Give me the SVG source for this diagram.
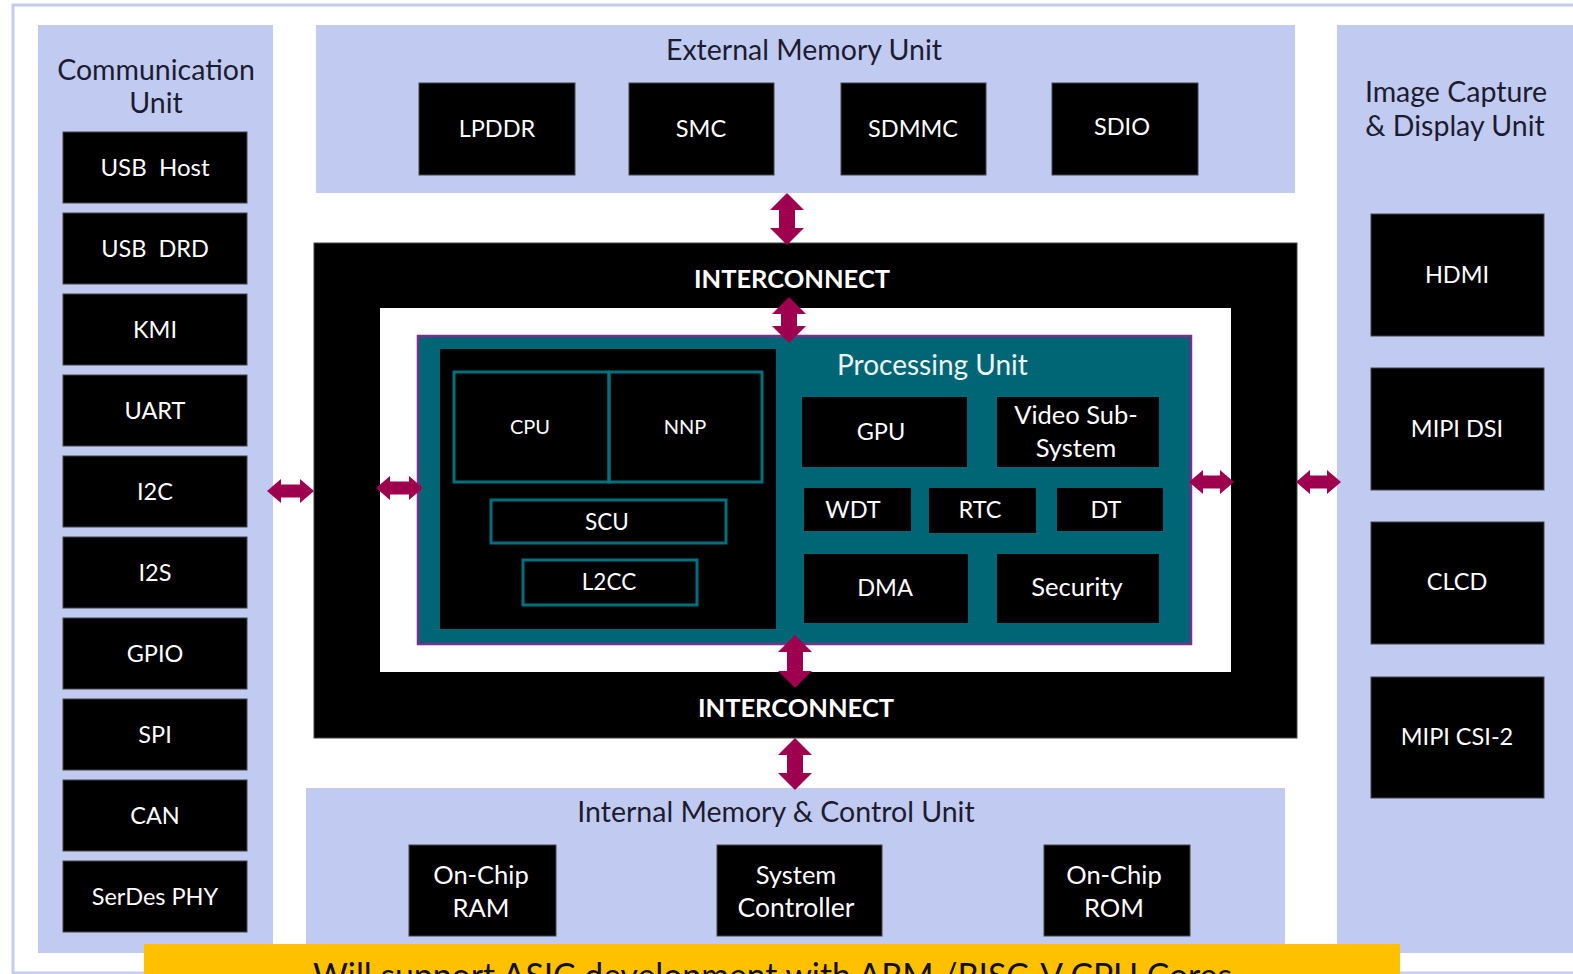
<svg xmlns="http://www.w3.org/2000/svg" width="1573" height="974" viewBox="0 0 1573 974">
<defs>
<style>
.panel{fill:#c1caf0}
.box{fill:#000;stroke:#444;stroke-width:1}
.title{font-family:Lato,"Open Sans",sans-serif;font-size:28.5px;fill:#1c1c30;text-anchor:middle}
.lbl{font-family:Lato,"Open Sans",sans-serif;font-size:23.5px;fill:#fff;text-anchor:middle}
.lw{font-size:25.5px}
.sm{font-family:Lato,"Open Sans",sans-serif;font-size:20px;fill:#fff;text-anchor:middle}
.ic{font-family:Lato,"Open Sans",sans-serif;font-size:25.5px;font-weight:bold;fill:#fff;text-anchor:middle}
.cpuo{fill:none;stroke:#007080;stroke-width:3}
.arr{fill:#9e004f}
</style>
</defs>
<rect x="0" y="0" width="1573" height="974" fill="#fff"/>
<rect x="13" y="5" width="1600" height="968" fill="#fff" stroke="#c5ccf0" stroke-width="3"/>

<g id="communication-unit">
<rect class="panel" x="38" y="25" width="235" height="928"/>
<text class="title" x="156" y="80">Communication</text>
<text class="title" x="156" y="113">Unit</text>
</g>
<g id="usb-host"><rect class="box" x="63" y="132" width="184" height="71"/><text class="lbl" x="155" y="176" style="font-size:24px" xml:space="preserve">USB  Host</text></g>
<g id="usb-drd"><rect class="box" x="63" y="213" width="184" height="71"/><text class="lbl" x="155" y="257" xml:space="preserve">USB  DRD</text></g>
<g id="kmi"><rect class="box" x="63" y="294" width="184" height="71"/><text class="lbl" x="155" y="338">KMI</text></g>
<g id="uart"><rect class="box" x="63" y="375" width="184" height="71"/><text class="lbl" x="155" y="419">UART</text></g>
<g id="i2c"><rect class="box" x="63" y="456" width="184" height="71"/><text class="lbl" x="155" y="500">I2C</text></g>
<g id="i2s"><rect class="box" x="63" y="537" width="184" height="71"/><text class="lbl" x="155" y="581">I2S</text></g>
<g id="gpio"><rect class="box" x="63" y="618" width="184" height="71"/><text class="lbl" x="155" y="662">GPIO</text></g>
<g id="spi"><rect class="box" x="63" y="699" width="184" height="71"/><text class="lbl" x="155" y="743">SPI</text></g>
<g id="can"><rect class="box" x="63" y="780" width="184" height="71"/><text class="lbl" x="155" y="824">CAN</text></g>
<g id="serdes-phy"><rect class="box" x="63" y="861" width="184" height="71"/><text class="lbl" x="155" y="905">SerDes PHY</text></g>

<g id="external-memory-unit">
<rect class="panel" x="316" y="25" width="979" height="168"/>
<text class="title" x="804" y="60">External Memory Unit</text>
</g>
<g id="lpddr"><rect class="box" x="419" y="83" width="156" height="92"/><text class="lbl" x="497" y="137">LPDDR</text></g>
<g id="smc"><rect class="box" x="629" y="83" width="145" height="92"/><text class="lbl" x="701" y="137">SMC</text></g>
<g id="sdmmc"><rect class="box" x="841" y="83" width="145" height="92"/><text class="lbl" x="913" y="137">SDMMC</text></g>
<g id="sdio"><rect class="box" x="1052" y="83" width="146" height="92"/><text class="lbl" x="1122" y="135">SDIO</text></g>

<g id="image-capture-display-unit">
<rect class="panel" x="1337" y="25" width="240" height="928"/>
<text class="title" x="1456" y="102">Image Capture</text>
<text class="title" x="1455" y="136">&amp; Display Unit</text>
</g>
<g id="hdmi"><rect class="box" x="1371" y="214" width="173" height="122"/><text class="lbl" x="1457" y="283">HDMI</text></g>
<g id="mipi-dsi"><rect class="box" x="1371" y="368" width="173" height="122"/><text class="lbl" x="1457" y="437">MIPI DSI</text></g>
<g id="clcd"><rect class="box" x="1371" y="522" width="173" height="122"/><text class="lbl" x="1457" y="590">CLCD</text></g>
<g id="mipi-csi2"><rect class="box" x="1371" y="677" width="173" height="121"/><text class="lbl" x="1457" y="745">MIPI CSI-2</text></g>

<g id="interconnect">
<rect x="314" y="243" width="983" height="495" fill="#000" stroke="#444" stroke-width="1"/>
<rect x="380" y="308" width="851" height="364" fill="#fff"/>
<text class="ic" x="792" y="288">INTERCONNECT</text>
<text class="ic" x="796" y="717">INTERCONNECT</text>
</g>

<g id="processing-unit">
<rect x="418" y="336" width="773" height="308" fill="#006675" stroke="#7a2e8e" stroke-width="2.5"/>
<rect x="440" y="349" width="336" height="280" fill="#000"/>
<text x="837" y="375" font-family="Lato, 'Open Sans', sans-serif" font-size="28" fill="#eef4f4">Processing Unit</text>
</g>
<g id="cpu"><rect class="cpuo" x="454" y="372" width="155" height="110"/><text class="sm" x="530" y="434">CPU</text></g>
<g id="nnp"><rect class="cpuo" x="609" y="372" width="153" height="110"/><text class="sm" x="685" y="434">NNP</text></g>
<g id="scu"><rect class="cpuo" x="491" y="500" width="235" height="43"/><text class="lbl" x="607" y="530" style="font-size:22.5px">SCU</text></g>
<g id="l2cc"><rect class="cpuo" x="523" y="560" width="174" height="45"/><text class="lbl" x="609" y="590" style="font-size:22.5px">L2CC</text></g>
<g id="gpu"><rect x="802" y="397" width="165" height="70" fill="#000"/><text class="lbl" x="881" y="440">GPU</text></g>
<g id="video-subsystem"><rect x="997" y="397" width="162" height="70" fill="#000"/><text class="lbl lw" x="1076" y="424">Video Sub-</text><text class="lbl lw" x="1076" y="457">System</text></g>
<g id="wdt"><rect x="804" y="488" width="107" height="43" fill="#000"/><text class="lbl" x="853" y="518">WDT</text></g>
<g id="rtc"><rect x="929" y="488" width="107" height="45" fill="#000"/><text class="lbl" x="980" y="518">RTC</text></g>
<g id="dt"><rect x="1057" y="488" width="106" height="43" fill="#000"/><text class="lbl" x="1106" y="518">DT</text></g>
<g id="dma"><rect x="804" y="554" width="164" height="69" fill="#000"/><text class="lbl" x="885" y="596">DMA</text></g>
<g id="security"><rect x="997" y="554" width="162" height="69" fill="#000"/><text class="lbl lw" x="1077" y="596">Security</text></g>

<g id="internal-memory-control-unit">
<rect class="panel" x="306" y="788" width="979" height="165"/>
<text class="title" x="776" y="822">Internal Memory &amp; Control Unit</text>
</g>
<g id="on-chip-ram"><rect class="box" x="409" y="845" width="147" height="91"/><text class="lbl lw" x="481" y="884">On-Chip</text><text class="lbl lw" x="481" y="917">RAM</text></g>
<g id="system-controller"><rect class="box" x="717" y="845" width="165" height="91"/><text class="lbl lw" x="796" y="884">System</text><text class="lbl lw" x="796" y="917" style="font-size:26.5px">Controller</text></g>
<g id="on-chip-rom"><rect class="box" x="1044" y="845" width="146" height="91"/><text class="lbl lw" x="1114" y="884">On-Chip</text><text class="lbl lw" x="1114" y="917">ROM</text></g>

<g id="banner">
<rect x="144" y="944" width="1256" height="40" fill="#ffc000"/>
<text x="313" y="988" font-family="Lato, 'Open Sans', sans-serif" font-size="35" fill="#111" textLength="919" lengthAdjust="spacingAndGlyphs">Will support ASIC development with ARM /RISC-V CPU Cores</text>
</g>

<g id="connectors">
<path class="arr" d="M267,491 L281,479 L281,484.5 L300,484.5 L300,479 L314,491 L300,503 L300,497.5 L281,497.5 L281,503 Z"/>
<path class="arr" d="M376,488 L390,476 L390,481.5 L409,481.5 L409,476 L423,488 L409,500 L409,494.5 L390,494.5 L390,500 Z"/>
<path class="arr" d="M1189,482 L1203,470 L1203,475.5 L1220,475.5 L1220,470 L1234,482 L1220,494 L1220,488.5 L1203,488.5 L1203,494 Z"/>
<path class="arr" d="M1296,482 L1310,470 L1310,475.5 L1327,475.5 L1327,470 L1341,482 L1327,494 L1327,488.5 L1310,488.5 L1310,494 Z"/>
<path class="arr" d="M787,193 L804,210 L795,210 L795,228 L804,228 L787,245 L770,228 L779,228 L779,210 L770,210 Z"/>
<path class="arr" d="M789,297 L806,314 L797,314 L797,326 L806,326 L789,343 L772,326 L781,326 L781,314 L772,314 Z"/>
<path class="arr" d="M795,635 L812,652 L803,652 L803,671 L812,671 L795,688 L778,671 L787,671 L787,652 L778,652 Z"/>
<path class="arr" d="M795,738 L812,755 L803,755 L803,773 L812,773 L795,790 L778,773 L787,773 L787,755 L778,755 Z"/>
</g>
</svg>
